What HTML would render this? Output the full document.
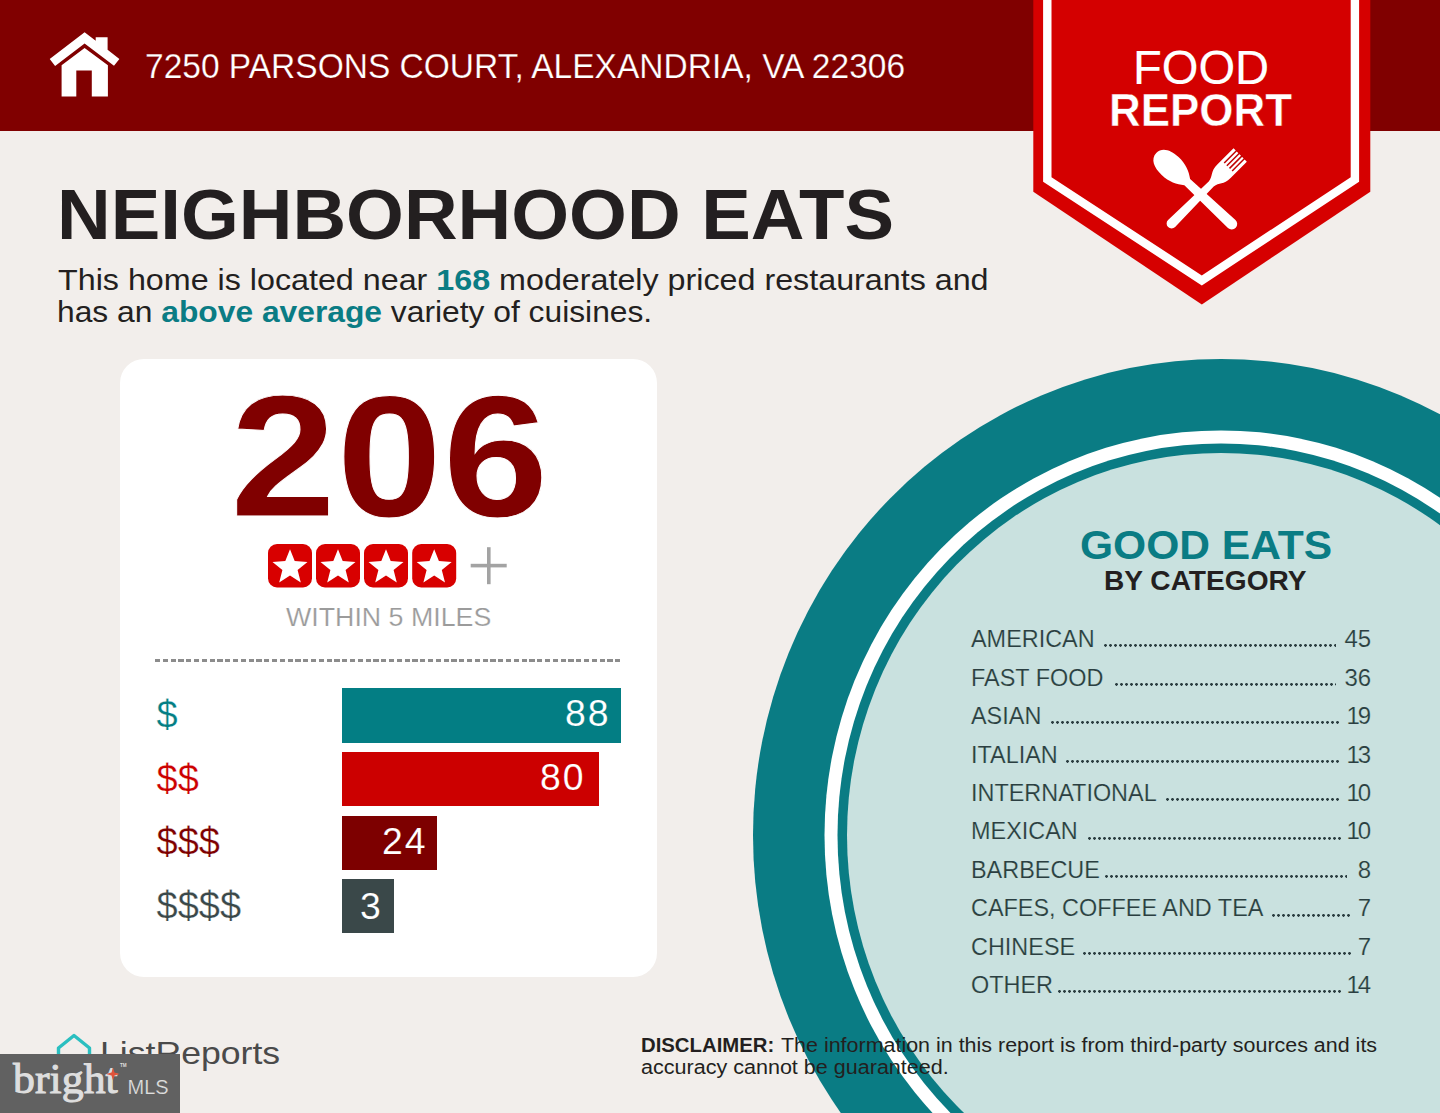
<!DOCTYPE html>
<html lang="en">
<head>
<meta charset="utf-8">
<title>Food Report - 7250 Parsons Court</title>
<style>
html,body{margin:0;padding:0;}
body{width:1440px;height:1113px;overflow:hidden;background:#f2eeeb;font-family:"Liberation Sans",sans-serif;}
#page{position:relative;width:1440px;height:1113px;overflow:hidden;background:#f2eeeb;}
.t{position:absolute;white-space:nowrap;line-height:1;transform-origin:0 0;margin:0;padding:0;}
.b{font-weight:bold;}
#hdr{position:absolute;left:0;top:0;width:1440px;height:131px;background:#800000;}
#gfx{position:absolute;left:0;top:0;width:1440px;height:1113px;}
#card{position:absolute;left:120px;top:359px;width:537px;height:618px;background:#fff;border-radius:24px;}
.bar{position:absolute;left:342px;height:55px;}
.teal{color:#0a7c84;}
.cat{color:#2b3e41;font-size:24px;-webkit-text-stroke:0.18px #c9e1df;}
.dots{position:absolute;height:3.4px;background:radial-gradient(circle at 1.5px 1.6px,#2b3e41 1.2px,rgba(43,62,65,0) 1.7px) 0 0/5px 3.4px repeat-x;}
.r{transform-origin:100% 0;}
#wm{position:absolute;left:0;top:1054px;width:180px;height:59px;background:#616161;}
</style>
</head>
<body>
<div id="page">

<!-- plate graphic + badge + icons -->
<svg id="gfx" width="1440" height="1113" viewBox="0 0 1440 1113">
  <!-- plate -->
  <ellipse cx="1221" cy="835.2" rx="468" ry="476.3" fill="#0a7c84"/>
  <ellipse cx="1221" cy="835.2" rx="396.5" ry="404.8" fill="#ffffff"/>
  <ellipse cx="1221" cy="835.2" rx="383.5" ry="391.8" fill="#0a7c84"/>
  <ellipse cx="1221" cy="835.2" rx="374" ry="382.3" fill="#c9e1df"/>
  <!-- header bar -->
  <rect x="0" y="0" width="1440" height="131" fill="#800000"/>
  <!-- badge -->
  <polygon points="1033.3,0 1370.3,0 1370.3,191.7 1201.8,304.5 1033.3,191.7" fill="#d60000"/>
  <polygon points="1052,0 1351,0 1351,177 1201.9,275 1052,177" fill="#d40000"/>
  <polyline points="1047.3,-5 1047.3,179.5 1201.8,280.4 1354.9,179.5 1354.9,-5" fill="none" stroke="#ffffff" stroke-width="8.4" stroke-linejoin="miter"/>
  <!-- house icon -->
  <g fill="#ffffff">
    <polygon points="84.6,32.3 95.7,40.7 95.7,37.3 107.6,37.3 107.6,49.7 119.4,58.9 114,65.8 84.6,43.4 55.1,66 49.7,58.9"/>
    <path d="M84.6,48.1 L107.9,65.3 L107.9,96.6 L91.8,96.6 L91.8,70.4 L76.3,70.4 L76.3,96.6 L61.6,96.6 L61.6,65.3 Z"/>
  </g>
  <!-- spoon -->
  <g transform="translate(1154.8,151.7) rotate(-46.8)" fill="#ffffff">
    <path d="M0,2 C8.3,2 12.3,10 12.3,21 C12.3,31 9,38.5 4.2,44.5 L5.5,105.5 A5.5,5.5 0 0 1 -5.5,105.5 L-4.2,44.5 C-9,38.5 -12.3,31 -12.3,21 C-12.3,10 -8.3,2 0,2 Z"/>
  </g>
  <!-- fork -->
  <g transform="translate(1240.2,155) rotate(45)">
    <path fill="#ffffff" d="M-9.4,0 L9.4,0 L9.4,23 C9.4,33 4.2,34 3.5,41 L5,97 A5,5 0 0 1 -5,97 L-3.5,41 C-4.2,34 -9.4,33 -9.4,23 Z"/>
    <g stroke="#c00000" stroke-width="1.5">
      <line x1="-5.6" y1="-1" x2="-5.6" y2="17"/>
      <line x1="-1.9" y1="-1" x2="-1.9" y2="17"/>
      <line x1="1.9" y1="-1" x2="1.9" y2="17"/>
      <line x1="5.6" y1="-1" x2="5.6" y2="17"/>
    </g>
  </g>
</svg>

<!-- header text -->
<div class="t" id="addr" style="-webkit-text-stroke:0.25px #800000;left:145px;top:49.3px;font-size:34.5px;transform:scaleX(0.9715);color:#fff;">7250 PARSONS COURT, ALEXANDRIA, VA 22306</div>
<div class="t" id="food" style="-webkit-text-stroke:0.15px #fff;left:1132.8px;top:43.6px;font-size:47.6px;transform:scaleX(0.99);color:#fff;">FOOD</div>
<div class="t b" id="report" style="-webkit-text-stroke:0.5px #d40000;left:1109px;top:87.3px;font-size:46.5px;transform:scaleX(0.945);color:#fff;">REPORT</div>

<!-- title -->
<div class="t b" id="title" style="left:57px;top:178.5px;font-size:71px;transform:scaleX(1.047);color:#231f20;">NEIGHBORHOOD EATS</div>
<div class="t" id="sub1" style="left:58px;top:265px;font-size:29.5px;transform:scaleX(1.0934);color:#231f20;">This home is located near <span class="b teal">168</span> moderately priced restaurants and</div>
<div class="t" id="sub2" style="left:57px;top:297px;font-size:29.5px;transform:scaleX(1.077);color:#231f20;">has an <span class="b teal">above average</span> variety of cuisines.</div>

<!-- card -->
<div id="card"></div>
<div class="t b" id="big" style="-webkit-text-stroke:0.9px #fff;left:230.4px;top:370.5px;font-size:172.5px;transform:scaleX(1.107);color:#800000;">206</div>

<svg style="position:absolute;left:260px;top:540px;" width="260" height="52" viewBox="260 540 260 52">
  
  <g transform="translate(268,544)"><rect x="0" y="0" width="44" height="43.5" rx="9" ry="9" fill="#d80000"/>
      <polygon fill="#ffffff" points="22.0,5.2 26.7,17.1 39.5,17.9 29.6,26.1 32.8,38.5 22.0,31.6 11.2,38.5 14.4,26.1 4.5,17.9 17.3,17.1"/></g>
  <g transform="translate(316,544)"><rect x="0" y="0" width="44" height="43.5" rx="9" ry="9" fill="#d80000"/>
      <polygon fill="#ffffff" points="22.0,5.2 26.7,17.1 39.5,17.9 29.6,26.1 32.8,38.5 22.0,31.6 11.2,38.5 14.4,26.1 4.5,17.9 17.3,17.1"/></g>
  <g transform="translate(364,544)"><rect x="0" y="0" width="44" height="43.5" rx="9" ry="9" fill="#d80000"/>
      <polygon fill="#ffffff" points="22.0,5.2 26.7,17.1 39.5,17.9 29.6,26.1 32.8,38.5 22.0,31.6 11.2,38.5 14.4,26.1 4.5,17.9 17.3,17.1"/></g>
  <g transform="translate(412.2,544)"><rect x="0" y="0" width="44" height="43.5" rx="9" ry="9" fill="#d80000"/>
      <polygon fill="#ffffff" points="22.0,5.2 26.7,17.1 39.5,17.9 29.6,26.1 32.8,38.5 22.0,31.6 11.2,38.5 14.4,26.1 4.5,17.9 17.3,17.1"/></g>
  <rect x="470.7" y="563.8" width="36" height="3.6" fill="#a3a3a3"/>
  <rect x="487" y="547.2" width="3.6" height="37" fill="#a3a3a3"/>
</svg>

<div class="t" id="within" style="-webkit-text-stroke:0.2px #fff;left:286.3px;top:603.8px;font-size:26.3px;transform:scaleX(1.018);color:#9b9b9b;">WITHIN 5 MILES</div>
<div id="dash" style="position:absolute;left:155.4px;top:659.2px;width:466.6px;height:2.4px;background:repeating-linear-gradient(90deg,#8c8c8c 0,#8c8c8c 5.2px,rgba(140,140,140,0) 5.2px,rgba(140,140,140,0) 7.8px);"></div>

<div class="bar" style="top:688.2px;width:279.3px;height:54.4px;background:#037e84;"></div>
<div class="bar" style="top:752px;width:256.8px;height:54.3px;background:#cc0000;"></div>
<div class="bar" style="top:815.6px;width:94.9px;height:54.2px;background:#7d0000;"></div>
<div class="bar" style="top:879.1px;width:52.1px;height:54.4px;background:#3a4849;"></div>

<div class="t" id="d1" style="-webkit-text-stroke:0.25px #fff;left:156.6px;top:695.5px;font-size:38px;color:#037e84;">$</div>
<div class="t" id="d2" style="-webkit-text-stroke:0.25px #fff;left:156.6px;top:759.8px;font-size:38px;color:#cc0000;">$$</div>
<div class="t" id="d3" style="-webkit-text-stroke:0.25px #fff;left:156.6px;top:823px;font-size:38px;color:#7d0000;">$$$</div>
<div class="t" id="d4" style="-webkit-text-stroke:0.25px #fff;left:156.6px;top:886.6px;font-size:38px;color:#3a4849;">$$$$</div>

<div class="t" id="n1" style="-webkit-text-stroke:0.15px #037e84;left:564.6px;top:696.2px;font-size:36px;letter-spacing:1.9px;transform:scaleX(1.038);color:#fff;">88</div>
<div class="t" id="n2" style="-webkit-text-stroke:0.15px #cc0000;left:540.1px;top:760.2px;font-size:36px;letter-spacing:1.9px;transform:scaleX(1.038);color:#fff;">80</div>
<div class="t" id="n3" style="-webkit-text-stroke:0.15px #7d0000;left:381.6px;top:824.2px;font-size:36px;letter-spacing:1.9px;transform:scaleX(1.038);color:#fff;">24</div>
<div class="t" id="n4" style="-webkit-text-stroke:0.15px #3a4849;left:359.9px;top:888.9px;font-size:36px;letter-spacing:1.9px;transform:scaleX(1.038);color:#fff;">3</div>

<!-- good eats -->
<div class="t b teal" id="ge" style="left:1080.3px;top:524.8px;font-size:41px;transform:scaleX(1.038);">GOOD EATS</div>
<div class="t b" id="bc" style="left:1104.3px;top:568.3px;font-size:27px;transform:scaleX(1.041);color:#231f20;">BY CATEGORY</div>

<div class="t cat" id="c1" style="left:971px;top:627.2px;transform:scaleX(0.976);">AMERICAN</div>
<div class="dots" style="left:1103.8px;top:644.4px;width:232.2px;"></div>
<div class="t cat r" id="v1" style="right:68.9px;top:627.2px;">45</div>
<div class="t cat" id="c2" style="left:971px;top:665.6px;transform:scaleX(0.976);">FAST FOOD</div>
<div class="dots" style="left:1114.7px;top:682.9px;width:221.2px;"></div>
<div class="t cat r" id="v2" style="right:68.9px;top:665.6px;">36</div>
<div class="t cat" id="c3" style="left:971px;top:704.1px;transform:scaleX(0.976);">ASIAN</div>
<div class="dots" style="left:1050.6px;top:721.3px;width:290.0px;"></div>
<div class="t cat r" id="v3" style="right:68.9px;top:704.1px;"><span style="letter-spacing:-2.2px">1</span>9</div>
<div class="t cat" id="c4" style="left:971px;top:742.5px;transform:scaleX(0.976);">ITALIAN</div>
<div class="dots" style="left:1066.2px;top:759.8px;width:274.8px;"></div>
<div class="t cat r" id="v4" style="right:68.9px;top:742.5px;"><span style="letter-spacing:-2.2px">1</span>3</div>
<div class="t cat" id="c5" style="left:971px;top:781.0px;transform:scaleX(0.976);">INTERNATIONAL</div>
<div class="dots" style="left:1166.2px;top:798.2px;width:174.3px;"></div>
<div class="t cat r" id="v5" style="right:68.9px;top:781.0px;"><span style="letter-spacing:-2.2px">1</span>0</div>
<div class="t cat" id="c6" style="left:971px;top:819.4px;transform:scaleX(0.976);">MEXICAN</div>
<div class="dots" style="left:1087.5px;top:836.6px;width:253.1px;"></div>
<div class="t cat r" id="v6" style="right:68.9px;top:819.4px;"><span style="letter-spacing:-2.2px">1</span>0</div>
<div class="t cat" id="c7" style="left:971px;top:857.9px;transform:scaleX(0.976);">BARBECUE</div>
<div class="dots" style="left:1105.3px;top:875.1px;width:242.2px;"></div>
<div class="t cat r" id="v7" style="right:68.9px;top:857.9px;">8</div>
<div class="t cat" id="c8" style="left:971px;top:896.3px;transform:scaleX(0.976);">CAFES, COFFEE AND TEA</div>
<div class="dots" style="left:1271.9px;top:913.6px;width:79.7px;"></div>
<div class="t cat r" id="v8" style="right:68.9px;top:896.3px;">7</div>
<div class="t cat" id="c9" style="left:971px;top:934.8px;transform:scaleX(0.976);">CHINESE</div>
<div class="dots" style="left:1082.8px;top:952.0px;width:268.8px;"></div>
<div class="t cat r" id="v9" style="right:68.9px;top:934.8px;">7</div>
<div class="t cat" id="c10" style="left:971px;top:973.2px;transform:scaleX(0.976);">OTHER</div>
<div class="dots" style="left:1057.8px;top:990.4px;width:284.4px;"></div>
<div class="t cat r" id="v10" style="right:68.9px;top:973.2px;"><span style="letter-spacing:-2.2px">1</span>4</div>

<!-- footer -->
<div class="t b" id="dis1" style="left:641px;top:1034.5px;font-size:20px;transform:scaleX(1.016);color:#231f20;">DISCLAIMER:</div>
<div class="t" id="dis1b" style="left:781px;top:1034.5px;font-size:20px;transform:scaleX(1.0725);color:#231f20;">The information in this report is from third-party sources and its</div>
<div class="t" id="dis2" style="left:641px;top:1056.7px;font-size:20px;transform:scaleX(1.077);color:#231f20;">accuracy cannot be guaranteed.</div>

<svg style="position:absolute;left:50px;top:1028px;" width="50" height="50" viewBox="50 1028 50 50">
  <path d="M58.5,1070 L58.5,1048 L74,1035.5 L89.5,1048 L89.5,1070 Z" fill="none" stroke="#2bbfc0" stroke-width="3.4" stroke-linejoin="round"/>
</svg>
<div class="t" id="lr" style="left:100px;top:1036.5px;font-size:32px;transform:scaleX(1.113);color:#4a4a4a;">ListReports</div>

<div id="wm"></div>
<div class="t" id="bright" style="left:12.5px;top:1056.5px;font-size:43px;color:#dedede;font-family:'Liberation Serif',serif;-webkit-text-stroke:1px #dedede;transform:scaleX(1.02);">bright</div>
<div class="t" id="mls" style="left:127.5px;top:1076.6px;font-size:20px;color:#dedede;-webkit-text-stroke:0.2px #616161;">MLS</div>
<div class="t" id="tm" style="left:120px;top:1063.8px;font-size:4.6px;font-weight:bold;color:#dedede;">TM</div>
<svg style="position:absolute;left:104.8px;top:1066.4px;" width="16" height="16" viewBox="-8 -8 16 16">
  <path d="M0,-6.2 L1.5,-1.5 L6.8,0 L1.5,1.5 L0,6.2 L-1.5,1.5 L-6.8,0 L-1.5,-1.5 Z" fill="#e0533a"/>
</svg>

</div>
</body>
</html>
